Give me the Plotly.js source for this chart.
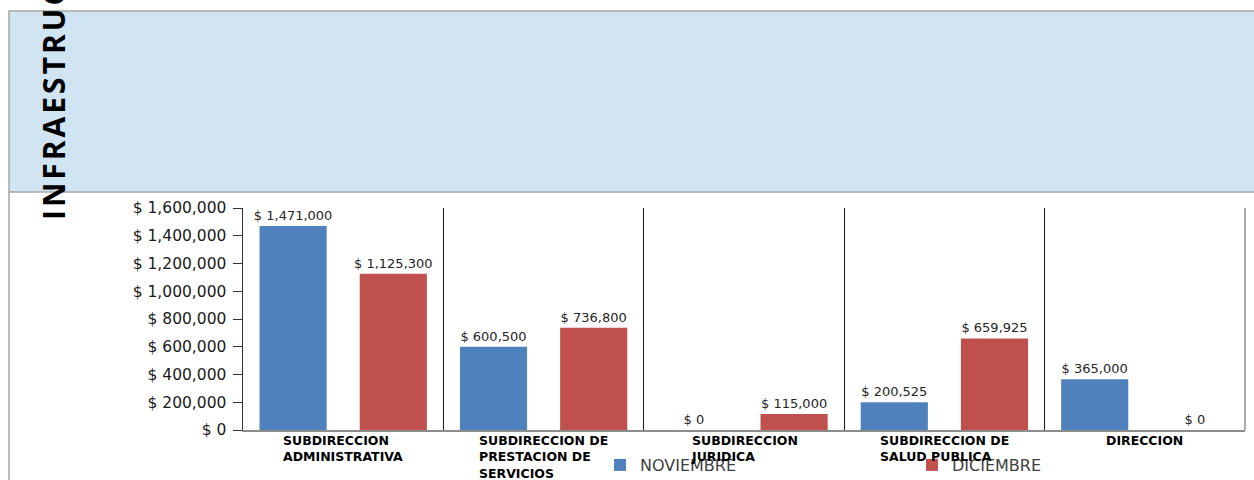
<!DOCTYPE html>
<html>
<head>
<meta charset="utf-8">
<script src="https://cdn.plot.ly/plotly-3.0.1.min.js"></script>
<style>
  html, body { margin: 0; padding: 0; background: #fff; }
  #chart { width: 1254px; height: 480px; }
</style>
</head>
<body>
<div id="chart"></div>
<script>
// ---- data ----
const categories = [
  "SUBDIRECCION ADMINISTRATIVA",
  "SUBDIRECCION DE PRESTACION DE SERVICIOS",
  "SUBDIRECCION JURIDICA",
  "SUBDIRECCION DE SALUD PUBLICA",
  "DIRECCION"
];
const categoryLabels = [
  "SUBDIRECCION<br>ADMINISTRATIVA",
  "SUBDIRECCION DE<br>PRESTACION DE<br>SERVICIOS",
  "SUBDIRECCION<br>JURIDICA",
  "SUBDIRECCION DE<br>SALUD PUBLICA",
  "DIRECCION"
];
const seriesNames = ["NOVIEMBRE", "DICIEMBRE"];
const noviembre = [1471000, 600500, 0, 200525, 365000];
const diciembre = [1125300, 736800, 115000, 659925, 0];
const titleText = "INFRAESTRUCTURA";

// ---- geometry helpers (layout only) ----
const W = 1254, H = 480;
const M = { l: 243, r: 9, t: 208, b: 50, autoexpand: false };
const pw = W - M.l - M.r, ph = H - M.t - M.b;
const px = x => (x - M.l) / pw;
const py = y => (H - M.b - y) / ph;

const labelFont = { family: "DejaVu Sans, Verdana, sans-serif", size: 13, color: "#262626" };

const traces = [
  {
    type: "bar", name: seriesNames[0], x: categories, y: noviembre,
    marker: { color: "#4F81BD" },
    texttemplate: "$ %{y:,}", textposition: "outside", cliponaxis: false,
    constraintext: "none", textfont: labelFont, outsidetextfont: labelFont,
    hoverinfo: "skip"
  },
  {
    type: "bar", name: seriesNames[1], x: categories, y: diciembre,
    marker: { color: "#C0504D" },
    texttemplate: "$ %{y:,}", textposition: "outside", cliponaxis: false,
    constraintext: "none", textfont: labelFont, outsidetextfont: labelFont,
    hoverinfo: "skip"
  }
];

const spaced = titleText.split("").join("\u200A");

const annotations = categories.map((c, i) => ({
  x: c, xref: "x", y: 0, yref: "y",
  xanchor: "center", yanchor: "top", yshift: -1,
  align: "left", showarrow: false,
  text: "<b>" + categoryLabels[i] + "</b>",
  font: { family: "DejaVu Sans, Verdana, sans-serif", size: 12.5, color: "#000" }
}));
annotations.push({
  xref: "paper", yref: "paper", x: px(53), y: py(222),
  xanchor: "center", yanchor: "bottom", textangle: -90, showarrow: false,
  text: "<b>" + spaced + "</b>",
  font: { family: "Open Sans, Liberation Sans, sans-serif", size: 30, color: "#000" }
});

const layout = {
  width: W, height: H,
  margin: M,
  paper_bgcolor: "#fff", plot_bgcolor: "rgba(0,0,0,0)",
  barmode: "group", bargap: 0, bargroupgap: 0.33,
  showlegend: true,
  legend: {
    orientation: "h", x: px(600), y: py(448), xanchor: "left", yanchor: "top",
    bgcolor: "rgba(0,0,0,0)", entrywidth: 267, itemwidth: 30,
    font: { family: "DejaVu Sans, Verdana, sans-serif", size: 16, color: "#404040" }
  },
  xaxis: {
    type: "category", range: [-0.5, 4.5], showticklabels: false,
    tickson: "boundaries", ticks: "", showgrid: true, gridcolor: "#1a1a1a", gridwidth: 1,
    showline: true, linecolor: "#8c8c8c", linewidth: 1.5, mirror: false, zeroline: false
  },
  yaxis: {
    range: [0, 1600000], dtick: 200000, tick0: 0, tickformat: ",", tickprefix: "$ ",
    ticks: "outside", ticklen: 9, tickcolor: "#333", showgrid: false, zeroline: false,
    showline: true, linecolor: "#333", linewidth: 1.5, ticklabelstandoff: 3,
    tickfont: { family: "DejaVu Sans, Verdana, sans-serif", size: 15.5, color: "#1a1a1a" }
  },
  shapes: [
    { type: "rect", xref: "paper", yref: "paper", layer: "below",
      x0: px(9), x1: px(1260), y0: py(192), y1: py(11),
      fillcolor: "#D0E4F2", line: { color: "#A6A6A6", width: 1.5 } },
    { type: "line", xref: "paper", yref: "paper", layer: "below",
      x0: px(9), x1: px(9), y0: py(192), y1: py(481),
      line: { color: "#A6A6A6", width: 1.5 } },
    { type: "line", xref: "paper", yref: "paper", layer: "above",
      x0: 1, x1: 1, y0: 0, y1: 1,
      line: { color: "#8c8c8c", width: 1.5 } }
  ],
  annotations: annotations
};

Plotly.newPlot("chart", traces, layout, { staticPlot: true, displayModeBar: false });
</script>
</body>
</html>
